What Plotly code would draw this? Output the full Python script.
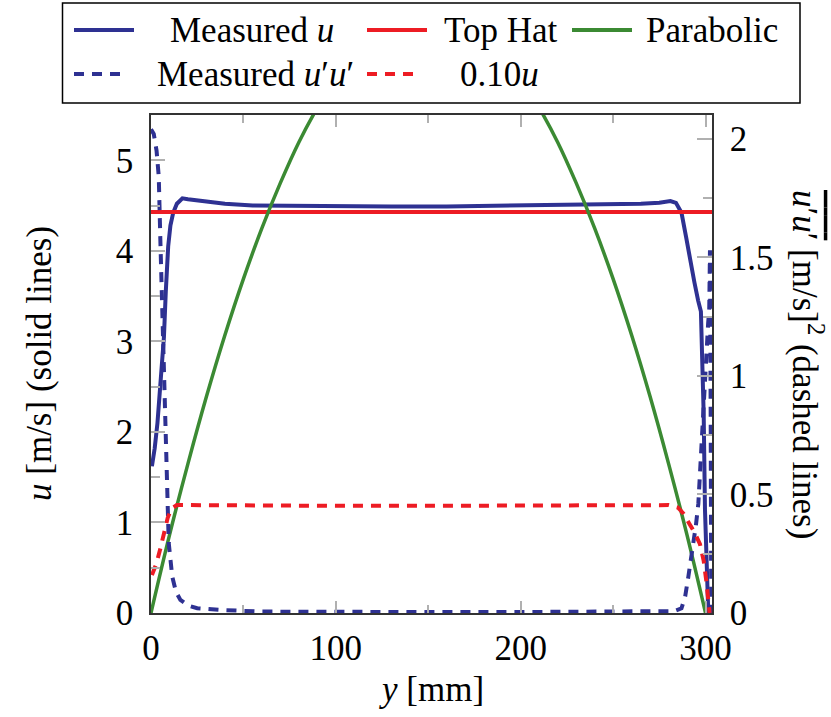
import plotly.graph_objects as go

# ---------------- data ----------------
# Measured mean velocity u [m/s] vs y [mm] (left axis, solid)
y_u = [0.5, 2, 3.5, 5, 6, 7, 8, 9.3, 10.5, 12, 14, 17, 20, 27, 40, 55, 80, 100, 130,
       160, 190, 220, 250, 265, 275, 281, 284, 287, 289.5, 291.6, 294, 296, 297.5,
       298.2, 299, 299.7, 300.5, 301.5]
u_meas = [1.62, 1.82, 2.10, 2.50, 2.72, 3.05, 3.55, 4.05, 4.28, 4.42, 4.52, 4.58, 4.57,
          4.55, 4.52, 4.50, 4.495, 4.49, 4.49, 4.49, 4.50, 4.50, 4.51, 4.52, 4.53, 4.55,
          4.53, 4.42, 4.15, 3.90, 3.65, 3.45, 3.33, 2.80, 2.20, 1.14, 0.50, 0.0]

# Top hat profile (left axis, solid)
y_th = [0, 303.5]
u_th = [4.43, 4.43]

# Parabolic profile (left axis, solid)
y_par = [0, 10, 20, 30, 40, 50, 60, 70, 80, 90, 100, 110, 120, 130, 140, 150,
         160, 170, 180, 190, 200, 210, 220, 230, 240, 250, 260, 270, 280, 290, 300]
u_par = [0.0, 0.86, 1.65, 2.39, 3.07, 3.69, 4.25, 4.75, 5.20, 5.58, 5.91, 6.17, 6.38,
         6.53, 6.62, 6.64, 6.62, 6.53, 6.38, 6.17, 5.91, 5.58, 5.20, 4.75, 4.25, 3.69,
         3.07, 2.39, 1.65, 0.86, 0.0]

# Measured u'u' (right axis, dashed)
y_uu = [0, 1.5, 3, 4.2, 5.1, 6.0, 6.9, 7.8, 8.8, 9.6, 11.5, 13.5, 15.9, 20, 25, 37, 60,
        100, 150, 200, 250, 275, 283, 287, 289, 290.7, 292, 293.4, 294.8, 296.1, 297.4,
        298.5, 299.7, 300.6, 301.4, 302, 302.4, 302.8, 303.1]
uu = [2.04, 2.02, 1.95, 1.84, 1.56, 1.28, 1.00, 0.716, 0.505, 0.295, 0.153, 0.09, 0.055,
      0.032, 0.02, 0.013, 0.006, 0.004, 0.004, 0.004, 0.004, 0.004, 0.008, 0.02, 0.07,
      0.153, 0.22, 0.29, 0.37, 0.46, 0.645, 0.855, 1.04, 1.14, 1.22, 1.28, 1.53, 0.8, 0.0]

# 0.10u (right axis, dashed)
y_r = [0.5, 3, 5, 7, 9, 11, 14, 20, 60, 100, 150, 200, 250, 280, 285, 288, 291, 294,
       297, 299, 300.5, 301.5, 302.2]
r_10u = [0.16, 0.21, 0.27, 0.34, 0.40, 0.44, 0.455, 0.455, 0.452, 0.452, 0.452, 0.452,
         0.453, 0.455, 0.445, 0.42, 0.38, 0.34, 0.29, 0.22, 0.13, 0.06, 0.0]

legend_names = ["Measured <i>u</i>", "Top Hat", "Parabolic",
                "Measured <i>u</i>′<i>u</i>′", "0.10<i>u</i>"]

# ---------------- style ----------------
BLUE = "#2E3192"
RED = "#ED1C24"
GREEN = "#3B8A33"
FONT = "Liberation Serif"
FS = 35
TICKC = "#b0b0b0"
AXC = "#333333"
DASH = "10px,8px"

W, H = 831, 717
L, R, T, B = 151, 712, 115, 613


def px(x):
    return (x - L) / (R - L)


def py(y):
    return (B - y) / (B - T)


fig = go.Figure()
fig.add_trace(go.Scatter(x=y_u, y=u_meas, mode="lines", line=dict(color=BLUE, width=4),
                         yaxis="y", showlegend=False))
fig.add_trace(go.Scatter(x=y_th, y=u_th, mode="lines", line=dict(color=RED, width=4),
                         yaxis="y", showlegend=False))
fig.add_trace(go.Scatter(x=y_par, y=u_par, mode="lines", line=dict(color=GREEN, width=3.5, shape="spline"),
                         yaxis="y", showlegend=False))
fig.add_trace(go.Scatter(x=y_uu, y=uu, mode="lines", line=dict(color=BLUE, width=4, dash=DASH),
                         yaxis="y2", showlegend=False))
fig.add_trace(go.Scatter(x=y_r, y=r_10u, mode="lines", line=dict(color=RED, width=4, dash=DASH),
                         yaxis="y2", showlegend=False))

tickfont = dict(family=FONT, size=FS, color="black")

fig.update_layout(
    width=W, height=H,
    margin=dict(l=L, r=W - R, t=T, b=H - B),
    paper_bgcolor="white", plot_bgcolor="white",
    showlegend=False,
    font=dict(family=FONT, size=FS, color="black"),
    xaxis=dict(range=[0, 303.5], tick0=0, dtick=100, ticks="inside", ticklen=12,
               tickcolor=TICKC, tickwidth=1.5, showline=True, linecolor=AXC, linewidth=1.6,
               mirror="ticks", showgrid=False, zeroline=False, tickfont=tickfont,
               ticklabelstandoff=3,
               minor=dict(dtick=50, ticks="inside", ticklen=8, tickcolor=TICKC, tickwidth=1.5)),
    yaxis=dict(range=[0, 5.5], tick0=0, dtick=1, ticks="inside", ticklen=14,
               tickcolor=TICKC, tickwidth=1.5, showline=True, linecolor=AXC, linewidth=1.6,
               showgrid=False, zeroline=False, tickfont=tickfont, ticklabelstandoff=9,
               minor=dict(dtick=0.5, ticks="inside", ticklen=9, tickcolor=TICKC, tickwidth=1.5)),
    yaxis2=dict(range=[0, 2.1], tick0=0, dtick=0.5, ticks="inside", ticklen=15,
                tickcolor=TICKC, tickwidth=1.5, showline=True, linecolor=AXC, linewidth=1.6,
                overlaying="y", side="right", showgrid=False, zeroline=False,
                tickfont=tickfont, ticklabelstandoff=9,
                minor=dict(dtick=0.25, ticks="inside", ticklen=9, tickcolor=TICKC, tickwidth=1.5)),
)

annots = []
shapes = []
# axis titles
annots.append(dict(x=px(431.5), y=py(689), xref="paper", yref="paper", showarrow=False,
                   text="<i>y</i> [mm]", font=dict(family=FONT, size=FS, color="black"),
                   xanchor="center", yanchor="middle"))
annots.append(dict(x=px(39), y=py(364), xref="paper", yref="paper", showarrow=False,
                   text="<i>u</i> [m/s] (solid lines)", textangle=-90,
                   font=dict(family=FONT, size=FS, color="black"),
                   xanchor="center", yanchor="middle"))
annots.append(dict(x=px(808), y=py(364), xref="paper", yref="paper", showarrow=False,
                   text='<span style="text-decoration:overline"><i>u</i>′<i>u</i>′</span> [m/s]<sup>2</sup> (dashed lines)',
                   textangle=90, font=dict(family=FONT, size=FS, color="black"),
                   xanchor="center", yanchor="middle"))

# legend box
shapes.append(dict(type="rect", xref="paper", yref="paper", x0=px(62.5), x1=px(800),
                   y0=py(3), y1=py(103), line=dict(color="black", width=1.5),
                   fillcolor="white", layer="above"))
leg_rows = [30, 74]
samples = [
    (74, 134, leg_rows[0], BLUE, "solid", 251.5),
    (367, 427, leg_rows[0], RED, "solid", 500),
    (572, 632, leg_rows[0], GREEN, "solid", 711.5),
    (74, 127, leg_rows[1], BLUE, DASH, 255),
    (367, 419, leg_rows[1], RED, DASH, 499),
]
for (x0, x1, yy, col, dsh, tc), name in zip(samples, legend_names):
    shapes.append(dict(type="line", xref="paper", yref="paper", x0=px(x0), x1=px(x1),
                       y0=py(yy), y1=py(yy), line=dict(color=col, width=4, dash=dsh),
                       layer="above"))
    annots.append(dict(x=px(tc), y=py(yy), xref="paper", yref="paper", showarrow=False,
                       text=name, font=dict(family=FONT, size=FS, color="black"),
                       xanchor="center", yanchor="middle"))

fig.update_layout(annotations=annots, shapes=shapes)
fig.write_html("out.html")
